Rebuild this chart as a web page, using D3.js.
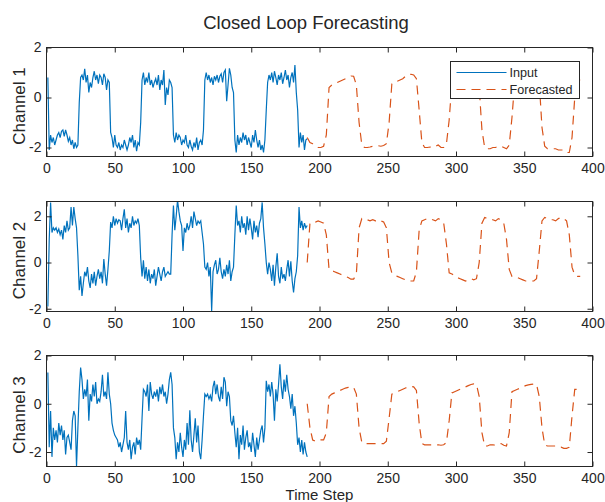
<!DOCTYPE html>
<html>
<head>
<meta charset="utf-8">
<script src="https://cdn.jsdelivr.net/npm/d3@7"></script>
<style>
  body { margin: 0; background: #fff; }
  text { font-family: Arial, "Liberation Sans", Helvetica, sans-serif; fill: #262626; }
</style>
</head>
<body>
<div id="chart"></div>
<script>
// input sequences, one value per time step (t = 1..191)
const inputCh1 = [0.8,-2.1,-1.5,-1.8,-1.6,-1.9,-1.7,-1.5,-1.4,-1.6,-1.35,-1.3,-1.55,-1.3,-1.5,-1.75,-1.6,-1.9,-1.7,-2.05,
  -1.8,-2.0,-1.9,-0.2,0.8,0.9,0.7,1.15,0.6,0.9,0.2,0.6,0.4,0.8,1.05,0.7,0.9,0.55,0.9,0.8,
  0.5,0.95,0.8,0.3,0.7,0.6,-1.4,-1.6,-2.0,-1.5,-1.9,-2.0,-1.8,-2.1,-1.9,-2.0,-1.7,-1.9,-2.1,-1.9,
  -1.6,-1.8,-1.5,-2.0,-1.7,-2.15,-1.8,-1.9,-1.0,0.7,1.0,0.5,0.8,0.6,1.0,0.5,0.7,0.4,0.6,0.75,
  0.5,0.9,0.3,0.7,0.5,1.1,-0.3,0.4,0.1,0.7,0.6,0.4,-1.5,-1.8,-1.4,-1.7,-1.5,-1.6,-1.9,-1.7,
  -1.8,-1.5,-1.9,-2.0,-1.7,-1.95,-2.1,-1.8,-2.0,-1.6,-2.1,-1.8,-1.7,-1.9,-1.3,0.7,1.0,0.7,0.9,0.6,
  0.8,0.5,0.85,0.7,0.9,0.6,0.85,0.95,0.6,1.0,1.1,-0.15,0.5,1.17,0.9,0.4,0.2,-1.7,-2.2,-1.5,
  -1.9,-1.6,-1.8,-1.4,-1.7,-1.5,-1.9,-1.6,-1.8,-2.0,-1.5,-1.8,-1.3,-1.7,-2.0,-1.7,-2.1,-1.9,-2.2,-1.7,
  -0.5,0.6,0.9,0.7,1.0,0.6,1.05,0.8,0.5,0.9,0.7,1.0,0.55,0.8,1.1,0.7,0.9,0.4,0.8,1.0,
  0.6,1.3,0.2,-0.5,-2.0,-1.4,-1.8,-1.5,-2.1,-1.7,-1.65];
const inputCh2 = [-1.9,1.0,2.6,1.3,1.5,1.4,1.5,1.3,1.45,1.2,1.4,1.0,1.6,1.3,1.8,1.4,1.5,2.4,1.6,2.4,
  1.9,1.5,0.3,-1.2,-0.6,-1.45,-0.9,-0.4,-0.6,-0.2,-0.8,-1.1,-0.5,-0.9,-0.4,-1.0,-0.6,-0.3,-0.7,-0.4,
  -0.9,0.15,-0.5,-1.0,-0.3,0.5,1.75,1.5,2.0,1.6,1.9,1.7,1.85,1.8,1.4,1.9,2.3,1.5,1.9,1.3,
  1.7,1.5,2.0,1.6,1.8,1.7,1.9,1.6,0.2,-0.6,0.1,-0.7,-0.2,-0.8,-0.3,-0.9,-0.5,-0.7,-0.3,-1.0,
  -0.6,-0.2,-0.5,-0.8,-0.4,-0.2,-0.6,-0.5,-0.4,-0.5,-0.5,1.2,2.47,1.4,2.0,2.7,2.2,1.8,1.6,0.5,
  1.5,1.3,1.7,1.4,1.6,2.0,1.5,2.2,1.9,1.6,1.8,1.7,1.8,1.3,0.8,-0.2,-0.3,0.0,-0.6,-0.2,
  -2.1,-0.4,-0.1,0.1,-0.5,-0.3,0.2,-0.4,-0.7,-0.3,-0.6,-0.1,-0.5,0.1,-0.8,-0.4,-0.2,1.2,2.47,1.6,
  1.8,1.3,2.0,1.5,1.7,1.2,2.0,1.4,1.9,1.5,1.0,1.8,1.3,1.6,1.1,1.7,1.9,2.6,1.5,0.8,
  0.0,-0.5,0.0,-0.3,-0.8,-0.1,-1.0,-0.2,0.4,-0.6,-0.9,-0.2,-0.7,-0.5,-0.8,-0.3,0.1,-0.6,0.05,-0.8,
  -1.3,-0.7,-0.4,0.3,2.4,1.5,1.8,1.4,1.7,1.5,1.6];
const inputCh3 = [1.3,-1.8,-0.3,-2.2,-1.0,-1.5,-1.1,-1.6,-0.8,-1.3,-0.9,-1.5,-1.1,-2.1,-1.4,-1.3,-1.6,-1.9,-0.7,-0.3,
  -0.5,-2.6,-1.0,0.5,1.5,1.0,0.2,0.6,0.3,1.0,-0.7,0.4,0.1,0.8,0.3,0.9,0.0,0.2,0.1,0.5,
  1.2,0.3,0.5,0.2,1.3,0.4,0.0,-0.8,-1.1,-1.3,-1.4,-1.5,-1.8,-1.6,-2.0,-1.7,-1.4,-0.3,-1.6,-1.9,
  -1.5,-2.3,-1.8,-1.6,-2.1,-1.4,-1.7,-1.5,-1.9,-0.6,0.6,0.5,0.3,0.8,-0.3,0.9,0.4,0.2,0.5,0.3,
  0.6,0.1,0.7,0.4,0.8,0.3,0.5,0.0,0.4,1.0,1.3,0.8,-1.0,-1.4,-2.3,-1.6,-2.0,-1.2,-1.8,-2.2,
  -1.5,-1.9,-0.8,-1.7,-0.27,-1.5,-2.0,-1.3,-0.6,-1.6,-0.9,-2.0,-2.3,-1.5,-0.5,0.4,0.3,0.4,0.2,0.35,
  0.1,0.7,0.95,0.4,0.8,0.3,0.1,0.7,0.2,1.1,0.9,-0.1,0.5,0.3,-0.7,-0.9,-0.5,-1.2,-1.8,-1.0,
  -2.3,-1.3,-1.7,-0.9,-1.9,-1.4,-1.1,-1.8,-1.6,-2.0,-1.2,-1.7,-2.2,-1.4,-1.9,-1.5,-1.1,-0.9,-1.6,-1.0,
  0.95,0.5,0.8,0.3,0.9,0.4,-0.7,0.6,0.1,0.8,1.64,0.7,0.2,1.0,0.5,1.2,0.6,0.3,-0.2,0.4,
  -0.5,-0.1,-0.8,-1.7,-1.4,-2.0,-1.5,-2.1,-1.6,-2.0,-2.2];

// closed loop forecast, read every 2nd step from t = 191 to 391
const forecastStart = 191, forecastStep = 2;
const forecastCh1 = [-1.6,-1.8,-1.85,-1.95,-2.0,-2.0,-1.95,-1.5,0.4,0.5,0.55,0.6,0.65,0.7,0.75,0.8,0.86,0.85,0.5,-1.0,
  -1.9,-2.0,-2.0,-1.98,-1.95,-1.95,-1.93,-1.95,-1.92,-1.85,-1.0,0.55,0.62,0.65,0.7,0.75,0.85,0.92,0.93,0.9,
  0.75,-0.5,-1.8,-2.0,-2.0,-1.98,-2.0,-1.95,-1.9,-2.0,-2.0,-1.85,-0.9,0.6,0.7,0.75,0.8,0.85,0.9,0.95,
  1.0,1.0,0.95,0.4,-1.3,-2.0,-2.05,-2.05,-2.0,-2.0,-1.95,-1.95,-2.0,-2.05,-1.9,-0.8,0.6,0.7,0.75,0.8,
  0.85,0.9,0.95,1.0,0.95,0.6,-1.2,-1.95,-2.05,-2.05,-2.05,-2.05,-2.1,-2.1,-2.1,-2.2,-2.2,-1.6,0.0,0.7,0.7];
const forecastCh2 = [0.0,1.7,1.75,1.75,1.8,1.75,1.7,1.2,-0.3,-0.35,-0.4,-0.45,-0.5,-0.55,-0.6,-0.65,-0.72,-0.72,-0.5,1.5,
  1.9,1.85,1.85,1.8,1.85,1.8,1.75,1.8,1.75,1.5,0.0,-0.45,-0.55,-0.6,-0.65,-0.7,-0.75,-0.8,-0.8,-0.8,
  -0.4,1.4,1.8,1.85,1.9,1.9,1.85,1.8,1.9,1.85,1.7,0.8,-0.45,-0.5,-0.55,-0.65,-0.7,-0.75,-0.8,-0.75,
  -0.7,-0.75,-0.7,0.0,1.7,1.95,1.9,1.85,1.85,1.8,1.9,1.85,1.7,1.0,-0.3,-0.6,-0.6,-0.65,-0.7,-0.75,
  -0.8,-0.8,-0.8,-0.8,-0.7,0.5,1.8,1.95,1.9,1.85,1.85,1.8,1.9,1.95,1.9,1.8,1.2,-0.2,-0.55,-0.6,-0.6];
const forecastCh3 = [0.0,-1.0,-1.5,-1.55,-1.55,-1.5,-1.5,-1.2,0.3,0.4,0.45,0.5,0.55,0.6,0.65,0.68,0.7,0.68,0.4,-1.0,
  -1.6,-1.65,-1.65,-1.65,-1.65,-1.65,-1.65,-1.65,-1.65,-1.55,-0.6,0.4,0.45,0.5,0.55,0.6,0.65,0.7,0.72,0.7,
  0.55,-0.8,-1.65,-1.7,-1.7,-1.7,-1.7,-1.7,-1.7,-1.72,-1.7,-1.6,-0.7,0.45,0.5,0.55,0.6,0.65,0.7,0.75,
  0.8,0.82,0.8,0.3,-1.2,-1.75,-1.75,-1.7,-1.7,-1.72,-1.68,-1.65,-1.72,-1.75,-1.2,0.5,0.55,0.6,0.65,0.7,
  0.75,0.78,0.8,0.82,0.8,0.3,-1.0,-1.7,-1.75,-1.75,-1.75,-1.75,-1.8,-1.8,-1.85,-1.85,-1.8,-0.5,0.6,0.6,0.55];

const channelNames = ['Channel 1', 'Channel 2', 'Channel 3'];
const xTicks = [0, 50, 100, 150, 200, 250, 300, 350, 400];
const yTicks = [-2, 0, 2];
const legendLabels = ['Input', 'Forecasted'];

const width = 605, height = 502;
const blue = '#0072BD', orange = '#D95319', ink = '#262626';

const svg = d3.select('#chart').append('svg')
    .attr('width', width)
    .attr('height', height);

const x = d3.scaleLinear().domain([0, 400]).range([46.5, 592.5]);

// panel boxes (pixels) and y limits
const panels = [
    {top: 47.5, bottom: 156.5, ylim: [-2.36, 2], input: inputCh1, forecast: forecastCh1},
    {top: 201.5, bottom: 311.5, ylim: [-2.12, 2.64], input: inputCh2, forecast: forecastCh2},
    {top: 355.5, bottom: 466.5, ylim: [-2.6, 2], input: inputCh3, forecast: forecastCh3}
];

panels.forEach((p, k) => {
    const y = d3.scaleLinear().domain(p.ylim).range([p.bottom, p.top]);
    const g = svg.append('g');

    g.append('clipPath').attr('id', 'clip' + k)
        .append('rect')
        .attr('x', x.range()[0]).attr('y', p.top)
        .attr('width', x.range()[1] - x.range()[0]).attr('height', p.bottom - p.top);

    const plot = g.append('g').attr('clip-path', `url(#clip${k})`);

    const inputLine = d3.line().x((d, i) => x(i + 1)).y(d => y(d));
    const fcLine = d3.line().x((d, i) => x(forecastStart + i * forecastStep)).y(d => y(d));

    plot.append('path')
        .attr('d', inputLine(p.input))
        .attr('fill', 'none').attr('stroke', blue).attr('stroke-width', 1.2);
    plot.append('path')
        .attr('d', fcLine(p.forecast))
        .attr('fill', 'none').attr('stroke', orange).attr('stroke-width', 1.2)
        .attr('stroke-dasharray', '9,6');

    // axes, ticks pointing inwards on all four sides
    const fmt = d => String(d);
    const styleAxis = a => {
        a.select('.domain').remove();
        a.selectAll('line').attr('stroke', ink);
        a.selectAll('text').attr('fill', ink).style('font-size', '14px')
            .style('font-family', 'Arial, "Liberation Sans", sans-serif');
    };
    g.append('g').attr('transform', `translate(0,${p.bottom})`)
        .call(d3.axisBottom(x).tickValues(xTicks).tickFormat(fmt).tickSizeInner(-5).tickSizeOuter(0).tickPadding(7))
        .call(styleAxis);
    g.append('g').attr('transform', `translate(0,${p.top})`)
        .call(d3.axisTop(x).tickValues(xTicks).tickFormat('').tickSizeInner(-5).tickSizeOuter(0))
        .call(styleAxis);
    g.append('g').attr('transform', `translate(${x.range()[0]},0)`)
        .call(d3.axisLeft(y).tickValues(yTicks).tickFormat(fmt).tickSizeInner(-5).tickSizeOuter(0).tickPadding(5))
        .call(styleAxis);
    g.append('g').attr('transform', `translate(${x.range()[1]},0)`)
        .call(d3.axisRight(y).tickValues(yTicks).tickFormat('').tickSizeInner(-5).tickSizeOuter(0))
        .call(styleAxis);

    g.append('rect')
        .attr('x', x.range()[0]).attr('y', p.top)
        .attr('width', x.range()[1] - x.range()[0]).attr('height', p.bottom - p.top)
        .attr('fill', 'none').attr('stroke', ink).attr('stroke-width', 1);

    g.append('text')
        .attr('transform', `translate(25,${(p.top + p.bottom) / 2 + 4}) rotate(-90)`)
        .attr('text-anchor', 'middle')
        .style('font-size', '17px')
        .text(channelNames[k]);
});

// title and x label
svg.append('text')
    .attr('x', 306).attr('y', 29)
    .attr('text-anchor', 'middle')
    .style('font-size', '18.5px')
    .text('Closed Loop Forecasting');

svg.append('text')
    .attr('x', (x.range()[0] + x.range()[1]) / 2).attr('y', 500)
    .attr('text-anchor', 'middle')
    .style('font-size', '15px')
    .text('Time Step');

// legend in the first panel
const leg = svg.append('g').attr('transform', 'translate(450.5,61.5)');
leg.append('rect')
    .attr('width', 129).attr('height', 37)
    .attr('fill', '#fff').attr('stroke', ink).attr('stroke-width', 1);
legendLabels.forEach((lab, i) => {
    const ly = 11 + i * 17;
    leg.append('line')
        .attr('x1', 6).attr('x2', 56).attr('y1', ly).attr('y2', ly)
        .attr('stroke', i === 0 ? blue : orange).attr('stroke-width', 1.2)
        .attr('stroke-dasharray', i === 0 ? null : '9,6');
    leg.append('text')
        .attr('x', 59).attr('y', ly + 4.5)
        .style('font-size', '12.6px')
        .text(lab);
});
</script>
</body>
</html>
